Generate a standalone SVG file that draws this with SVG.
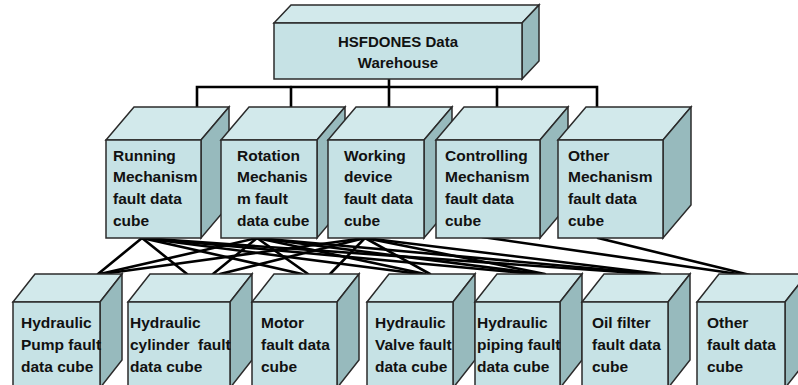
<svg xmlns="http://www.w3.org/2000/svg" width="798" height="385" viewBox="0 0 798 385">
<style>
.fr{fill:#c6e2e5;stroke:#2b2b2b;stroke-width:1.5}
.tp{fill:#d2e9eb;stroke:#2b2b2b;stroke-width:1.5}
.sd{fill:#97babd;stroke:#2b2b2b;stroke-width:1.5}
.t{font-family:"Liberation Sans",Arial,sans-serif;font-weight:bold;font-size:15.5px;fill:#111}
.tc{font-family:"Liberation Sans",Arial,sans-serif;font-weight:bold;font-size:15px;fill:#111;text-anchor:middle}
.ln{stroke:#000;stroke-width:2.6;fill:none;stroke-linecap:round}
</style>
<rect width="798" height="385" fill="#fff"/>
<g id="connectors" class="ln">
<polyline points="197,107 197,87 597,87 597,107"/>
<line x1="291" y1="87" x2="291" y2="107"/>
<line x1="497" y1="87" x2="497" y2="107"/>
<line x1="389" y1="79" x2="389" y2="107"/>
<line x1="142" y1="238" x2="98" y2="274"/>
<line x1="142" y1="238" x2="187" y2="274"/>
<line x1="142" y1="238" x2="302" y2="274"/>
<line x1="142" y1="238" x2="420" y2="274"/>
<line x1="142" y1="238" x2="535" y2="274"/>
<line x1="142" y1="238" x2="650" y2="274"/>
<line x1="257" y1="238" x2="100" y2="274"/>
<line x1="257" y1="238" x2="213" y2="274"/>
<line x1="257" y1="238" x2="308" y2="274"/>
<line x1="257" y1="238" x2="425" y2="274"/>
<line x1="257" y1="238" x2="540" y2="274"/>
<line x1="257" y1="238" x2="655" y2="274"/>
<line x1="365" y1="238" x2="102" y2="274"/>
<line x1="365" y1="238" x2="220" y2="274"/>
<line x1="365" y1="238" x2="330" y2="274"/>
<line x1="365" y1="238" x2="430" y2="274"/>
<line x1="365" y1="238" x2="545" y2="274"/>
<line x1="365" y1="238" x2="660" y2="274"/>
<line x1="482" y1="237" x2="745" y2="275"/>
<line x1="598" y1="238" x2="750" y2="275"/>
</g>
<g id="warehouse">
<polygon class="tp" points="274,23 291,5 539,5 522,23"/>
<polygon class="sd" points="522,23 539,5 539,61 522,79"/>
<rect class="fr" x="274" y="23" width="248" height="56"/>
<text class="tc" x="398" y="47">HSFDONES Data</text>
<text class="tc" x="398" y="68">Warehouse</text>
</g>
<g id="running">
<polygon class="tp" points="106,140 134,107 229,107 201,140"/>
<polygon class="sd" points="201,140 229,107 229,205 201,238"/>
<rect class="fr" x="106" y="140" width="95" height="98"/>
<text class="t" x="113"><tspan y="161">Running</tspan><tspan x="113" y="182">Mechanism</tspan><tspan x="113" y="204">fault data</tspan><tspan x="113" y="226">cube</tspan></text>
</g>
<g id="rotation">
<polygon class="tp" points="221,140 249,107 345,107 317,140"/>
<polygon class="sd" points="317,140 345,107 345,205 317,238"/>
<rect class="fr" x="221" y="140" width="96" height="98"/>
<text class="t" x="237"><tspan y="161">Rotation</tspan><tspan x="237" y="182">Mechanis</tspan><tspan x="237" y="204">m fault</tspan><tspan x="237" y="226">data cube</tspan></text>
</g>
<g id="working">
<polygon class="tp" points="328,140 356,107 452,107 424,140"/>
<polygon class="sd" points="424,140 452,107 452,205 424,238"/>
<rect class="fr" x="328" y="140" width="96" height="98"/>
<text class="t" x="344"><tspan y="161">Working</tspan><tspan x="344" y="182">device</tspan><tspan x="344" y="204">fault data</tspan><tspan x="344" y="226">cube</tspan></text>
</g>
<g id="controlling">
<polygon class="tp" points="436,140 464,107 568,107 540,140"/>
<polygon class="sd" points="540,140 568,107 568,205 540,238"/>
<rect class="fr" x="436" y="140" width="104" height="98"/>
<text class="t" x="445"><tspan y="161">Controlling</tspan><tspan x="445" y="182">Mechanism</tspan><tspan x="445" y="204">fault data</tspan><tspan x="445" y="226">cube</tspan></text>
</g>
<g id="other-mechanism">
<polygon class="tp" points="558,140 586,107 691,107 663,140"/>
<polygon class="sd" points="663,140 691,107 691,205 663,238"/>
<rect class="fr" x="558" y="140" width="105" height="98"/>
<text class="t" x="568"><tspan y="161">Other</tspan><tspan x="568" y="182">Mechanism</tspan><tspan x="568" y="204">fault data</tspan><tspan x="568" y="226">cube</tspan></text>
</g>
<g id="pump">
<polygon class="tp" points="13,302 35,274 122,274 100,302"/>
<polygon class="sd" points="100,302 122,274 122,360 100,388"/>
<rect class="fr" x="13" y="302" width="87" height="86"/>
<text class="t" x="21"><tspan y="328">Hydraulic</tspan><tspan x="21" y="350">Pump fault</tspan><tspan x="21" y="372">data cube</tspan></text>
</g>
<g id="cylinder">
<polygon class="tp" points="128,302 150,274 252,274 230,302"/>
<polygon class="sd" points="230,302 252,274 252,360 230,388"/>
<rect class="fr" x="128" y="302" width="102" height="86"/>
<text class="t" x="130" xml:space="preserve"><tspan y="328">Hydraulic</tspan><tspan x="130" y="350">cylinder  fault</tspan><tspan x="130" y="372">data cube</tspan></text>
</g>
<g id="motor">
<polygon class="tp" points="252,302 274,274 359,274 337,302"/>
<polygon class="sd" points="337,302 359,274 359,360 337,388"/>
<rect class="fr" x="252" y="302" width="85" height="86"/>
<text class="t" x="261"><tspan y="328">Motor</tspan><tspan x="261" y="350">fault data</tspan><tspan x="261" y="372">cube</tspan></text>
</g>
<g id="valve">
<polygon class="tp" points="367,302 389,274 475,274 453,302"/>
<polygon class="sd" points="453,302 475,274 475,360 453,388"/>
<rect class="fr" x="367" y="302" width="86" height="86"/>
<text class="t" x="375"><tspan y="328">Hydraulic</tspan><tspan x="375" y="350">Valve fault</tspan><tspan x="375" y="372">data cube</tspan></text>
</g>
<g id="piping">
<polygon class="tp" points="475,302 497,274 582,274 560,302"/>
<polygon class="sd" points="560,302 582,274 582,360 560,388"/>
<rect class="fr" x="475" y="302" width="85" height="86"/>
<text class="t" x="477"><tspan y="328">Hydraulic</tspan><tspan x="477" y="350">piping fault</tspan><tspan x="477" y="372">data cube</tspan></text>
</g>
<g id="oil-filter">
<polygon class="tp" points="582,302 604,274 690,274 668,302"/>
<polygon class="sd" points="668,302 690,274 690,360 668,388"/>
<rect class="fr" x="582" y="302" width="86" height="86"/>
<text class="t" x="592"><tspan y="328">Oil filter</tspan><tspan x="592" y="350">fault data</tspan><tspan x="592" y="372">cube</tspan></text>
</g>
<g id="other">
<polygon class="tp" points="697,302 719,274 807,274 785,302"/>
<polygon class="sd" points="785,302 807,274 807,360 785,388"/>
<rect class="fr" x="697" y="302" width="88" height="86"/>
<text class="t" x="707"><tspan y="328">Other</tspan><tspan x="707" y="350">fault data</tspan><tspan x="707" y="372">cube</tspan></text>
</g>
</svg>
